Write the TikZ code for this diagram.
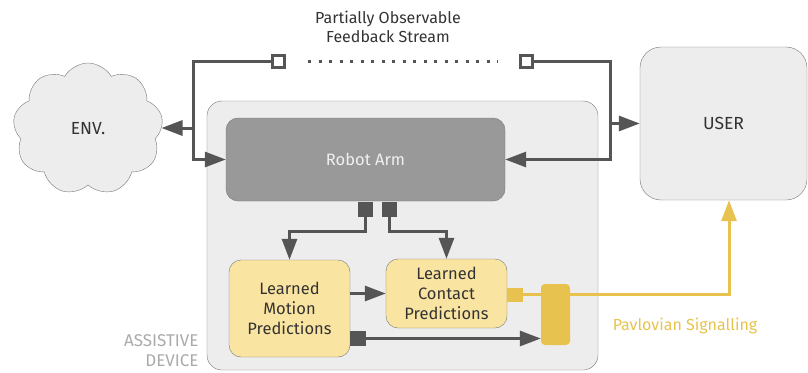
\documentclass[tikz,border=0pt]{standalone}
\usepackage{fontspec}
\setmainfont{Fira Sans}
\usepackage{xcolor}
\usetikzlibrary{arrows.meta, positioning, shapes.symbols}
\definecolor{boxfill}{HTML}{EDEDED}
\definecolor{boxstroke}{HTML}{777777}
\definecolor{armfill}{HTML}{999999}
\definecolor{predfill}{HTML}{FAE4A1}
\definecolor{sigfill}{HTML}{E8C24F}
\definecolor{darkline}{HTML}{555555}
\definecolor{labelgray}{HTML}{AAAAAA}
\definecolor{textdark}{HTML}{333333}
\tikzset{
    envcloud/.style={cloud, cloud puffs=9, cloud puff arc=120, aspect=1.15, draw=boxstroke, fill=boxfill,
    minimum width=150pt, minimum height=132pt, font=\fontsize{17.5}{20}\selectfont, text=textdark},
    devicebox/.style={rectangle, rounded corners=15pt, draw=boxstroke, fill=boxfill},
    armbox/.style={rectangle, rounded corners=12pt, draw=boxstroke, fill=armfill,
    minimum width=279pt, minimum height=83pt, font=\fontsize{16.5}{20}\selectfont, text=white!94!black},
    userbox/.style={rectangle, rounded corners=21pt, draw=boxstroke, fill=boxfill,
    minimum width=167pt, minimum height=153pt, font=\fontsize{17.5}{20}\selectfont, text=textdark},
    predbox/.style={rectangle, rounded corners=12pt, draw=boxstroke, fill=predfill,
    align=center, font=\fontsize{16.5}{20}\selectfont, text=textdark},
    sigbar/.style={rectangle, rounded corners=4pt, fill=sigfill, minimum width=29pt, minimum height=61pt},
    fbport/.style={rectangle, draw=darkline, fill=white, line width=3pt, minimum size=12pt, inner sep=0pt},
    armport/.style={rectangle, fill=darkline, minimum size=15pt, inner sep=0pt},
    sigport/.style={rectangle, fill=sigfill, minimum width=16pt, minimum height=14pt, inner sep=0pt},
    darkln/.style={draw=darkline, line width=3pt},
    darkarrow/.style={darkln, -{Triangle[length=21pt, width=15pt]}},
    fbdots/.style={draw=darkline, line width=3pt, dash pattern=on 3pt off 7.5pt},
    yellowln/.style={draw=sigfill, line width=3pt},
    yellowarrow/.style={yellowln, -{Triangle[length=21pt, width=15pt]}},
}

\begin{document}
\begin{tikzpicture}[x=1pt, y=-1pt]
        \useasboundingbox (0,0) rectangle (808,372);

% ---- main blocks
        \node[envcloud] (env) at (88,129) {ENV.};
        \node[devicebox, minimum width=391pt, minimum height=269pt] (device) at (402.5,235.5) {};
        \node[armbox] (arm) at (365.5,159.5) {Robot Arm};
        \node[userbox] (user) at (723.5,123.5) {USER};

        \node[predbox, minimum width=121pt, minimum height=97pt] (motion) at (289.5,308.5)
            {Learned\\Motion\\Predictions};
        \node[predbox, minimum width=121pt, minimum height=69pt] (contact) at (446.5,293.5)
            {Learned\\Contact\\Predictions};
        \node[sigbar] (bar) at (555.5,314.5) {};

% ---- feedback stream
        \node[font=\fontsize{16}{19}\selectfont, text=textdark, align=center] (fbtitle) at (388,27)
            {Partially Observable\\Feedback Stream};
        \node[fbport] (portL) at (278.5,61) {};
        \node[fbport] (portR) at (526.5,61) {};
        \draw[fbdots, shorten <=22pt, shorten >=21pt] (portL.east) -- (portR.west);

        \coordinate (jL) at (193,128);
        \coordinate (jR) at (610,123.5);
        \draw[darkarrow] (portL.west) -| (jL) |- (arm.west);
        \draw[darkarrow] (jL) -- (jL -| env.east);
        \draw[darkarrow] (portR.east) -| (jR) |- (arm.east);
        \draw[darkarrow] (jR) -- (user.west);

% ---- robot arm outputs
        \node[armport] (outA) at (365.5,209.5) {};
        \node[armport] (outB) at (389.5,209.5) {};
        \draw[darkarrow] (outA.south) -- ++(0,14) -| (motion.north);
        \draw[darkarrow] (outB.south) -- ++(0,14) -| (contact.north);

% ---- predictions
        \draw[darkarrow] (motion.east |- contact.west) -- (contact.west);
        \node[armport, minimum width=16pt] (outM) at (358,338.5) {};
        \draw[darkarrow] (outM.east) -- (outM.east -| bar.west);

% ---- pavlovian signal
        \node[sigport] (outC) at (515,294.5) {};
        \draw[yellowln] (outC.east) -- (outC.east -| bar.west);
        \draw[yellowarrow] (outC.east -| bar.east) -| ([xshift=5.5pt]user.south);
        \node[font=\fontsize{16}{20}\selectfont, text=sigfill] (pavlov) at (685,326) {Pavlovian Signalling};

        \node[anchor=east, align=right, font=\fontsize{17}{20}\selectfont, text=labelgray] (devlbl) at (202,351)
            {ASSISTIVE\\DEVICE};

\end{tikzpicture}
\end{document}
